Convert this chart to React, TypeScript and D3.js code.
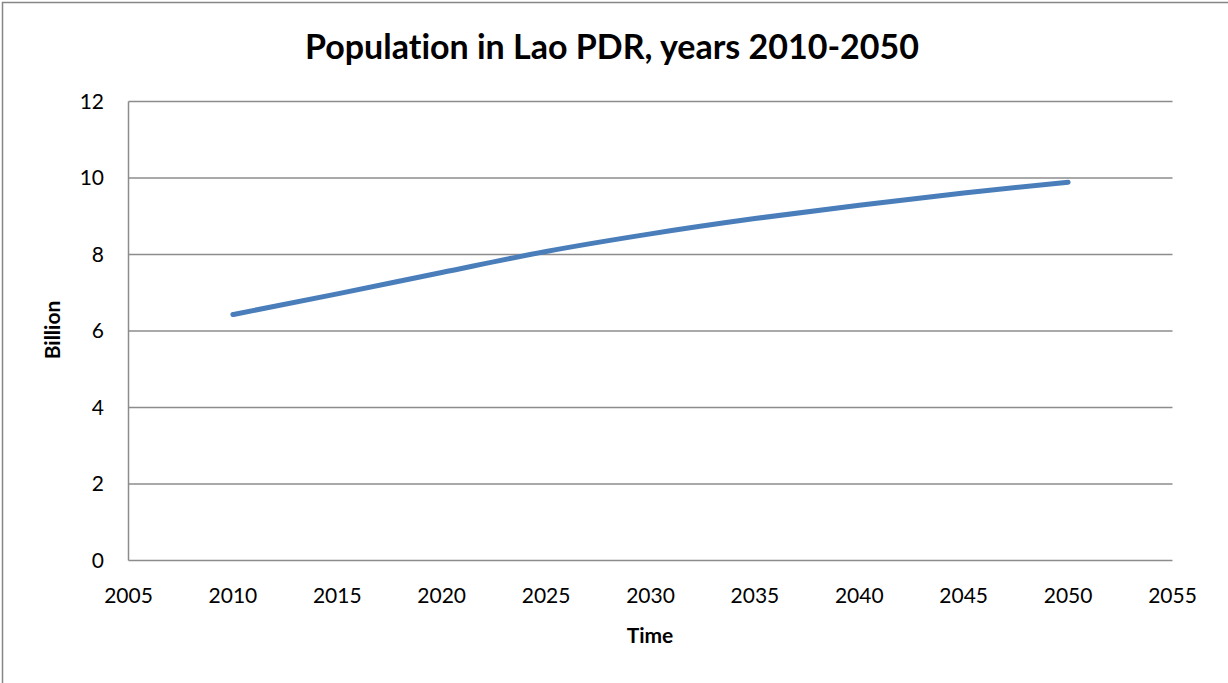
import React from "react";
import * as d3 from "d3";

const years = [2010, 2015, 2020, 2025, 2030, 2035, 2040, 2045, 2050];
const population = [6.43, 6.97, 7.53, 8.08, 8.54, 8.94, 9.29, 9.61, 9.89];
const xTicks = [2005, 2010, 2015, 2020, 2025, 2030, 2035, 2040, 2045, 2050, 2055];
const yTicks = [0, 2, 4, 6, 8, 10, 12];

const W = 1228;
const H = 683;
const FONT = "Lato, 'Open Sans', sans-serif";

export default function App() {
  const x = d3.scaleLinear().domain([2005, 2055]).range([128.5, 1172.5]);
  const y = d3.scaleLinear().domain([0, 12]).range([560.5, 101.5]);

  const line = d3
    .line<number>()
    .x((_, i) => x(years[i]))
    .y((d) => y(d))
    .curve(d3.curveMonotoneX);

  return (
    <svg
      width={W}
      height={H}
      style={{ position: "absolute", left: 0, top: 0, background: "#fff", fontVariantLigatures: "none" }}
      fontFamily={FONT}
    >
      <rect x={2.5} y={2.5} width={W + 10} height={H + 10} fill="#fff" stroke="#868686" strokeWidth={1.5} />
      <text x={612} y={59} textAnchor="middle" fontSize={34} fontWeight="bold" fill="#000">
        Population in Lao PDR, years 2010-2050
      </text>

      {yTicks.map((t) => (
        <g key={t}>
          <line x1={x(2005)} x2={x(2055)} y1={y(t)} y2={y(t)} stroke="#8c8c8c" strokeWidth={1.5} />
          <text x={104} y={y(t) + 7} textAnchor="end" fontSize={21} fill="#000">
            {t}
          </text>
        </g>
      ))}
      <line x1={x(2005)} x2={x(2005)} y1={y(12)} y2={y(0)} stroke="#8c8c8c" strokeWidth={1.5} />

      {xTicks.map((t) => (
        <text key={t} x={x(t)} y={603} textAnchor="middle" fontSize={21} fill="#000">
          {t}
        </text>
      ))}

      <text x={650} y={643} textAnchor="middle" fontSize={21} fontWeight="bold" fill="#000">
        Time
      </text>
      <text
        transform="translate(60,330) rotate(-90)"
        textAnchor="middle"
        fontSize={21}
        fontWeight="bold"
        fill="#000"
      >
        Billion
      </text>

      <path
        d={line(population) ?? ""}
        fill="none"
        stroke="#4a7ebb"
        strokeWidth={5}
        strokeLinecap="round"
        strokeLinejoin="round"
      />
    </svg>
  );
}
